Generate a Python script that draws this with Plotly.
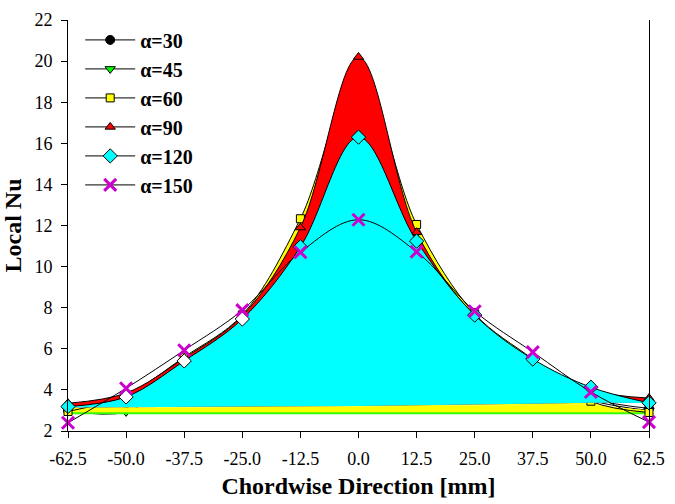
import plotly.graph_objects as go

x_pos = [-62.5, -50.0, -37.5, -25.0, -12.5, 0.0, 12.5, 25.0, 37.5, 50.0, 62.5]
x_labels = ["-62.5", "-50.0", "-37.5", "-25.0", "-12.5", "0.0", "12.5", "25.0", "37.5", "50.0", "62.5"]

nu_30 = [3.0, 3.35, 5.0, 7.0, 9.8, 13.5, 9.9, 7.1, 5.0, 3.6, 3.1]
nu_45 = [3.0, 2.93, 4.8, 6.8, 9.5, 13.0, 9.6, 6.9, 4.8, 3.5, 3.0]
nu_60 = [2.95, 3.75, 5.6, 7.65, 12.33, 19.3, 12.05, 7.7, 5.5, 3.45, 2.9]
nu_90 = [3.35, 3.85, 5.55, 7.6, 11.9, 20.2, 11.67, 7.6, 5.45, 4.0, 3.6]
nu_120 = [3.19, 3.66, 5.41, 7.45, 10.96, 16.3, 11.24, 7.64, 5.5, 4.13, 3.37]
nu_150 = [2.4, 4.08, 5.93, 7.88, 10.7, 12.28, 10.72, 7.83, 5.84, 3.9, 2.43]

# lower edges of the filled areas
floor_low = [2.86, 2.86, 2.86, 2.86, 2.86, 2.86, 2.86, 2.86, 2.86, 2.86, 2.86]
band_top = [3.12, 3.13, 3.15, 3.17, 3.19, 3.2, 3.22, 3.24, 3.26, 3.28, 3.0]
floor_high = [3.14, 3.15, 3.17, 3.19, 3.2, 3.22, 3.25, 3.28, 3.33, 3.38, 3.36]

serif = "Liberation Serif"
fig = go.Figure()

SYM = {
    "\u03b1=30": ("circle", "black", 9, 1, "black"),
    "\u03b1=45": ("triangle-down", "#00ff00", 9, 1, "black"),
    "\u03b1=60": ("square", "#ffff00", 8, 1, "black"),
    "\u03b1=90": ("triangle-up", "#ff0000", 9, 1, "black"),
    "\u03b1=120": ("diamond", "#00ffff", 11, 1, "black"),
    "\u03b1=150": ("x-thin", "#cc00cc", 12, 3, "#cc00cc"),
}

def series(y, name, fill=None, fillcolor=None, mcolor=None):
    sym, col, size, mw, mlc = SYM[name]
    return go.Scatter(
        x=x_pos, y=y, name=name, showlegend=False, mode="lines+markers",
        line=dict(color="black", width=1, shape="spline", smoothing=1.0),
        marker=dict(symbol=sym, size=size, color=mcolor if mcolor else col,
                    line=dict(color=mlc, width=mw)),
        fill=fill, fillcolor=fillcolor, cliponaxis=False)

def helper(y, color="rgba(0,0,0,0)", width=0, fill=None, fillcolor=None):
    return go.Scatter(x=x_pos, y=y, mode="lines", showlegend=False, hoverinfo="skip",
                      line=dict(color=color, width=width), fill=fill, fillcolor=fillcolor)

fig.add_trace(series(nu_45, "\u03b1=45"))
fig.add_trace(series(nu_30, "\u03b1=30"))
fig.add_trace(helper(floor_low, color="#33ff00", width=2))
fig.add_trace(helper(band_top, fill="tonexty", fillcolor="#ffff00"))
fig.add_trace(series(nu_60, "\u03b1=60", fill="tonexty", fillcolor="#ffff00"))
fig.add_trace(helper(floor_high))
fig.add_trace(series(nu_90, "\u03b1=90", fill="tonexty", fillcolor="#ff0000"))
fig.add_trace(helper(floor_high))
diamond_colors = ["#00ffff", "white", "white", "white", "#00ffff", "#00ffff",
                  "#00ffff", "#00ffff", "#00ffff", "#00ffff", "#00ffff"]
fig.add_trace(series(nu_120, "\u03b1=120", fill="tonexty", fillcolor="#00ffff", mcolor=diamond_colors))
fig.add_trace(series(nu_150, "\u03b1=150"))

# legend entries (line + symbol, no fill swatch)
for name, (sym, col, size, mw, mlc) in SYM.items():
    fig.add_trace(go.Scatter(
        x=[None], y=[None], name=name, mode="lines+markers", showlegend=True,
        line=dict(color="black", width=1),
        marker=dict(symbol=sym, size=size, color=col, line=dict(color=mlc, width=mw))))

fig.update_layout(
    width=675, height=504,
    margin=dict(l=68, r=17, t=10, b=72),
    plot_bgcolor="white", paper_bgcolor="white",
    font=dict(family=serif, size=18, color="black"),
    showlegend=True,
    legend=dict(x=0.021, y=0.999, xanchor="left", yanchor="top", traceorder="normal",
                bgcolor="rgba(0,0,0,0)", itemwidth=50,
                font=dict(family=serif, size=20, weight="bold")),
    xaxis=dict(range=[-62.5, 62.5], tickmode="array", tickvals=x_pos, ticktext=x_labels,
               showgrid=False, zeroline=False, showline=True, linecolor="black", linewidth=1,
               ticks="outside", ticklen=6, tickcolor="black", ticklabelstandoff=5,
               tickfont=dict(family=serif, size=18),
               title=dict(text="Chordwise Direction [mm]", standoff=9,
                          font=dict(family=serif, size=24, weight="bold"))),
    yaxis=dict(range=[2, 22], tickmode="array", tickvals=list(range(2, 23, 2)),
               showgrid=False, zeroline=False, showline=True, linecolor="black", linewidth=1,
               mirror=True, ticks="outside", ticklen=6, tickcolor="black", ticklabelstandoff=5,
               tickfont=dict(family=serif, size=18),
               title=dict(text="Local Nu", standoff=6,
                          font=dict(family=serif, size=24, weight="bold"))),
)

fig.write_html("out.html")
